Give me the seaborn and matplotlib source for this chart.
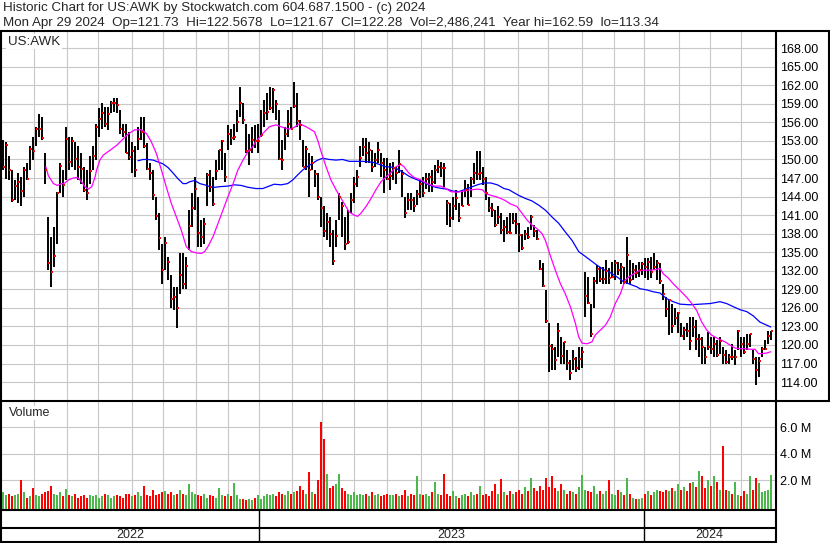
import matplotlib
matplotlib.use("Agg")
import matplotlib.pyplot as plt
from matplotlib.lines import Line2D
import numpy as np
import seaborn as sns

# ---------------- data (one sample ~ every 2 trading days, May 2022 .. Apr 29 2024) ----------------
highs = [153.1,152.9,150.5,148.3,146.7,147.8,147.2,148.8,149.4,152.1,153.7,155.3,157.4,156.9,151.0,140.7,137.5,139.1,144.8,149.4,148.3,155.2,153.7,153.7,152.9,152.1,151.0,148.8,148.3,150.5,152.1,155.8,158.3,159.1,158.5,158.5,159.4,159.9,159.9,158.0,155.8,155.8,154.5,
         152.9,152.1,155.3,156.9,156.9,152.6,149.4,148.3,144.0,141.3,136.4,137.5,134.3,131.3,129.4,129.4,134.8,134.9,134.3,141.8,144.5,147.2,144.0,140.2,140.5,147.8,148.3,147.2,149.9,151.5,153.1,151.0,155.6,155.0,155.8,158.0,161.8,159.1,155.8,154.2,155.3,155.6,
         155.8,158.0,159.6,160.7,161.8,161.5,159.6,158.0,153.1,155.3,158.0,158.5,162.6,160.7,156.4,153.1,152.1,151.0,150.5,148.3,147.8,144.0,142.4,141.3,140.7,138.6,140.2,144.5,143.2,140.7,141.8,144.5,147.2,148.3,152.1,153.4,153.4,152.9,151.5,151.0,152.9,151.0,150.2,
         150.2,149.4,149.6,148.8,151.5,148.3,144.0,144.5,144.5,144.0,145.1,146.7,147.2,147.8,147.8,148.3,149.1,149.9,149.6,149.4,143.4,142.9,144.0,145.1,142.9,145.1,146.7,146.1,147.2,149.4,151.3,151.3,148.8,147.2,144.0,142.9,141.8,142.4,141.3,140.2,140.7,141.3,141.3,
         141.3,139.7,138.0,138.6,139.1,141.0,139.4,138.6,133.7,133.2,128.9,123.5,120.2,119.7,123.5,121.3,120.5,119.2,117.5,119.2,118.1,119.7,119.7,131.8,131.0,126.7,131.0,132.9,132.6,132.6,133.7,132.4,133.5,133.7,133.5,133.2,132.6,137.5,133.7,133.2,132.9,133.5,133.5,
         134.0,134.0,134.3,134.9,133.7,133.2,129.9,127.8,127.2,126.7,125.9,125.4,123.5,122.9,123.5,124.5,124.5,124.0,121.8,121.3,119.7,122.1,121.3,121.3,120.8,121.3,119.7,119.2,118.6,120.2,119.2,122.4,121.3,121.3,121.8,121.8,119.2,118.1,118.1,119.7,120.8,122.2,122.2]
lows = [148.3,146.9,146.7,143.2,143.4,142.9,142.4,144.0,146.7,148.3,149.9,152.1,153.7,153.1,146.1,132.1,129.4,132.6,136.4,144.5,144.0,146.7,148.3,148.8,148.3,146.7,146.1,144.8,143.4,146.1,148.3,149.9,153.7,155.0,155.3,154.8,157.5,157.7,157.5,154.2,153.7,151.0,149.9,
        147.8,147.2,151.5,153.1,151.8,148.3,146.7,143.4,140.2,135.3,129.9,132.1,130.5,125.9,125.6,122.8,128.3,129.1,129.1,135.3,139.1,141.8,135.9,135.9,136.4,142.4,144.8,142.4,146.7,148.3,148.3,146.4,151.5,152.3,153.1,154.5,156.9,155.8,151.0,149.1,151.0,151.8,
        151.0,153.7,155.3,156.4,158.0,157.5,156.4,149.9,148.3,151.5,153.7,155.0,158.3,155.3,153.1,148.8,148.3,144.0,148.3,145.6,143.4,139.1,137.5,136.9,135.9,132.9,135.9,140.2,137.5,135.3,136.4,141.3,142.9,145.6,148.8,150.5,149.4,149.4,148.0,148.8,149.4,147.2,144.5,
        146.7,145.1,146.7,146.1,147.8,144.0,140.5,141.8,141.8,141.5,142.6,143.7,144.0,145.3,144.8,144.8,146.1,147.8,147.2,145.6,139.4,139.1,140.2,141.8,139.9,142.4,144.0,142.7,144.0,146.1,146.7,146.7,145.9,143.4,141.5,140.7,139.1,139.6,138.0,136.7,138.0,137.9,139.6,
        138.0,135.1,135.3,136.9,137.2,138.6,137.5,136.9,132.1,129.4,123.5,115.6,115.9,115.9,118.1,117.0,117.0,115.9,114.3,115.9,115.6,115.9,116.2,124.5,126.7,121.3,125.9,129.9,130.2,129.9,129.9,129.9,130.8,130.5,131.3,129.9,129.9,129.9,129.9,130.5,130.8,131.0,131.3,
        130.8,130.5,130.8,132.1,130.5,129.9,127.2,124.5,121.6,121.9,123.2,121.9,121.3,120.8,121.3,119.2,121.3,119.2,118.1,117.0,117.0,119.2,118.6,118.1,118.1,118.6,117.0,117.0,117.0,117.5,116.7,119.2,118.1,118.6,119.2,119.7,117.0,113.5,114.8,118.1,119.2,120.2,120.8]
closes = [148.8,152.3,148.3,143.4,145.7,146.4,144.9,148.3,146.9,151.7,151.3,154.9,154.9,153.5,148.3,133.3,131.8,134.4,144.6,148.9,145.9,153.3,149.6,153.0,150.1,148.8,148.5,145.1,144.6,148.1,150.5,155.3,156.5,157.5,155.7,157.4,159.1,159.2,158.8,155.0,154.4,151.1,150.4,
          151.4,148.3,153.3,154.5,152.1,148.5,147.8,144.3,140.9,137.3,132.1,136.5,133.4,127.5,127.7,126.0,131.3,129.9,132.8,139.3,142.1,145.3,138.1,137.5,139.5,147.5,145.6,142.8,148.2,151.5,153.0,147.1,154.1,153.5,153.7,156.1,159.2,156.4,151.4,151.6,153.1,153.0,
          153.0,154.0,157.5,157.6,158.4,161.2,158.9,150.1,149.9,154.2,155.8,155.0,158.6,156.3,155.6,148.8,151.7,148.3,149.4,147.6,143.9,142.2,138.4,139.9,138.0,133.6,137.7,144.0,142.4,136.4,136.7,143.5,146.1,147.1,150.2,152.0,151.0,151.5,148.8,149.9,151.5,149.4,148.3,
          146.9,147.3,148.7,147.8,149.3,147.6,141.3,143.5,143.4,142.4,144.4,146.1,144.5,146.9,147.1,146.3,148.3,148.8,148.7,148.6,142.9,140.6,142.4,143.7,140.6,142.5,145.1,142.7,146.9,147.8,147.6,147.8,146.9,144.5,142.1,141.8,139.4,140.7,138.6,139.1,138.3,138.1,140.0,
          139.6,137.8,135.7,138.0,137.5,140.7,138.5,137.2,132.3,129.5,123.9,119.8,119.4,117.6,122.2,118.2,120.4,117.1,115.5,117.7,116.3,117.7,118.9,128.0,126.8,121.8,130.4,132.3,130.6,130.7,132.0,130.8,131.0,133.3,132.2,132.6,130.2,134.5,130.5,132.1,131.6,132.1,133.1,
          132.6,133.5,131.8,132.6,133.2,130.4,128.3,125.8,127.2,123.0,124.4,125.1,121.5,122.5,122.3,120.7,122.9,120.9,120.9,119.7,118.0,119.7,119.3,120.2,118.3,120.7,118.3,117.2,118.1,118.0,118.0,122.3,120.2,118.9,120.2,121.7,117.7,115.9,117.4,119.4,119.4,121.4,122.3]
volume_m = [1.1,0.9,1.0,0.8,0.9,1.0,2.0,1.1,0.7,0.8, 1.4,0.9,0.8,1.0,1.1,1.2,1.55,1.0,0.9,1.1,
            0.8,1.35,0.9,0.8,1.0,0.7,0.8,0.9,0.7,0.9, 0.8,0.9,0.7,0.8,1.0,0.9,0.7,0.8,0.9,0.8,
            0.7,0.95,1.0,0.8,0.9,1.1,0.8,1.55,0.9,0.8, 1.3,0.9,1.0,1.1,1.2,1.0,1.1,0.9,1.0,1.3,
            1.0,0.9,1.7,1.1,1.0,0.9,0.8,1.0,0.7,0.9, 0.8,0.7,1.45,0.9,0.8,1.0,0.8,1.8,0.9,0.6,
            0.6,0.5,0.6,0.5,0.7,0.9,0.6,0.8,1.0,0.9, 1.0,0.8,1.1,1.0,0.9,1.2,1.0,1.1,1.2,1.6,
            1.3,1.0,2.6,1.1,1.0,2.05,6.4,5.1,2.5,1.4, 1.6,1.7,2.5,1.4,1.2,1.0,0.9,1.1,0.9,1.0,
            0.9,1.0,0.8,1.1,0.9,1.0,0.8,0.9,1.0,0.9, 0.9,1.0,0.8,0.9,1.3,0.8,1.0,0.9,2.3,1.0,
            0.9,1.0,0.8,1.1,1.9,1.0,0.9,2.5,1.0,0.8, 1.2,0.8,0.7,0.9,1.0,0.8,1.1,0.9,1.0,1.6,
            0.9,1.0,0.8,1.2,1.7,1.0,2.1,1.1,0.9,1.2, 1.0,1.1,1.3,1.0,1.5,1.2,2.2,1.4,1.2,1.6,
            1.3,2.2,1.5,2.3,1.4,1.2,1.7,1.3,1.0,1.2, 1.1,1.0,1.5,2.4,1.3,1.2,1.1,1.6,1.0,1.2,
            1.0,1.2,2.0,1.0,0.9,1.3,1.1,0.9,2.2,1.0, 0.7,0.6,0.6,0.7,1.0,1.2,0.9,1.1,1.3,1.2,
            1.1,1.3,1.2,1.4,1.2,1.7,1.3,1.5,1.2,1.8, 1.9,1.5,2.7,2.3,1.4,2.0,1.6,2.3,1.9,1.3,
            4.6,1.3,1.2,1.0,1.9,0.9,0.8,1.2,1.0,2.3, 1.3,2.2,1.8,1.1,1.2,1.3,2.4]

# moving averages (sample index, value)
ma_fast_idx = [14.3,15.1,16.8,18.1,19.6,20.7,21.8,23.4,24.8,26.2,27.3,28.4,29.6,30.7,31.2,32.3,33.4,35.7,37.9,39.6,41.2,42.3,
               43.9,46.1,47.8,49.4,51.1,52.8,54.4,56.1,57.8,59.4,61.1,62.8,64.4,66.1,67.2,68.3,70.0,71.7,73.3,75.0,76.7,78.3,80.0,81.7,83.3,
               84.3,86.6,88.8,91.0,93.2,95.4,97.1,98.8,101.0,103.8,104.9,106.0,107.7,109.3,111.0,112.7,114.3,115.4,117.1,118.2,119.3,121.0,122.7,124.3,126.0,127.7,
               129.2,130.9,132.6,133.7,135.3,137.0,139.2,141.4,143.7,145.9,147.6,149.2,151.4,153.7,155.9,158.1,159.8,160.9,162.6,164.2,165.9,167.6,169.2,
               171.3,173.0,174.7,176.3,178.0,179.7,180.8,182.4,184.1,185.8,187.4,189.1,190.8,191.9,193.0,194.7,196.3,197.4,199.1,200.8,202.4,204.1,205.8,207.4,208.6,210.2,211.9,
               214.0,215.7,217.9,219.0,220.1,221.8,223.4,225.7,227.9,229.6,231.2,232.9,234.6,236.2,238.4,240.7,242.3,244.0,245.7,247.3,249.0,250.7,251.8,252.9,254.6,255.9]
ma_fast_val = [148.8,147.4,146.1,145.8,146.1,146.2,146.7,147.0,147.1,146.4,145.6,145.2,145.6,147.2,148.3,149.9,150.7,151.5,152.3,153.1,153.9,154.3,
               154.8,154.8,154.2,152.9,151.0,148.3,145.6,142.9,140.7,138.6,135.9,135.1,134.9,134.8,135.1,135.9,137.5,139.7,141.8,144.0,146.1,148.3,149.9,151.3,152.1,
               152.9,154.2,155.3,155.6,155.2,154.9,155.2,155.8,155.3,154.5,153.1,151.3,148.8,146.7,145.1,143.7,142.4,141.5,141.0,140.8,141.3,142.4,143.7,145.1,146.4,147.2,
               147.8,148.8,149.2,148.8,147.8,147.1,146.7,146.1,145.7,145.7,145.3,144.8,144.7,144.9,145.1,145.2,145.1,144.5,144.2,144.0,143.7,143.3,142.8,
               142.4,141.3,140.2,139.4,138.8,138.0,136.9,134.5,132.1,129.9,128.3,126.2,123.5,121.3,120.3,120.2,120.5,121.6,122.4,123.2,124.5,126.7,128.3,130.5,131.0,131.5,132.0,
               132.1,132.1,132.2,132.4,131.5,130.8,129.9,128.8,127.7,126.7,125.6,123.7,122.4,121.6,121.0,120.5,120.0,119.5,119.4,119.4,119.3,119.3,118.6,118.6,118.7,118.9]
ma_slow_idx = [45.0,46.7,48.3,50.0,51.7,53.3,55.0,56.7,58.3,60.0,61.1,62.2,63.9,65.6,67.2,68.9,70.6,72.2,75.0,77.2,79.4,81.7,
               84.3,86.6,88.2,90.4,92.7,94.9,96.6,98.2,99.9,101.6,103.2,104.9,106.6,108.8,111.0,113.2,115.4,117.7,119.9,122.1,123.8,125.4,127.7,
               129.2,130.9,133.1,135.3,137.6,139.8,142.0,144.2,146.4,148.1,149.8,152.0,154.2,155.9,158.1,160.3,162.6,164.8,167.0,168.7,
               169.7,171.9,174.1,176.3,178.6,180.8,183.0,185.2,187.4,189.7,191.9,193.6,195.8,198.0,200.2,202.4,204.7,206.9,209.1,211.3,
               212.3,214.6,216.8,219.0,221.2,223.4,225.7,229.0,232.3,235.7,239.0,241.2,243.4,245.7,247.9,250.1,252.3,254.6,255.9]
ma_slow_val = [149.8,150.0,150.0,149.9,149.6,149.3,148.7,147.8,146.9,146.1,146.1,146.4,146.6,146.1,145.9,145.6,145.5,145.6,145.7,145.9,145.8,145.5,
               145.3,145.3,145.6,146.0,145.9,146.1,146.7,147.5,148.3,148.9,149.4,149.9,150.2,150.0,149.9,150.0,149.7,149.7,149.7,149.6,149.5,149.2,148.8,
               148.8,148.6,148.0,147.3,146.8,146.4,145.9,145.5,145.3,145.2,144.9,144.8,145.2,145.5,145.9,146.2,146.2,145.9,145.3,145.1,
               144.8,144.2,143.7,143.3,142.6,141.8,140.7,139.7,138.3,136.9,135.1,134.5,133.7,132.9,132.2,131.7,131.0,130.2,129.8,129.4,
               129.1,128.9,128.6,128.4,127.5,127.0,126.6,126.5,126.6,126.7,127.0,126.7,126.2,125.7,125.4,124.7,123.7,123.2,122.9]

month_start_idx = [10.43,21.23,31.57,42.9,53.23,64.23,74.9,85.43,96.43,106.43,117.1,127.9,139.23,149.57,
                   160.43,171.57,181.57,192.9,203.57,213.67,225.23,235.57,245.9]
year_labels = ["2022", "2023", "2024"]
year_start_idx = [85.43, 213.67]
price_ticks = [114, 117, 120, 123, 126, 129, 132, 135, 138, 141, 144, 147, 150, 153, 156, 159, 162, 165, 168]
volume_ticks = [2, 4, 6]

header1 = "Historic Chart for US:AWK by Stockwatch.com 604.687.1500 - (c) 2024"
header2_fields = ["Mon Apr 29 2024", "Op=121.73", "Hi=122.5678", "Lo=121.67", "Cl=122.28",
                  "Vol=2,486,241", "Year hi=162.59", "lo=113.34"]
symbol = "US:AWK"

# ---------------- drawing ----------------
sns.set_theme(style="white")
plt.rcParams['font.family'] = ['Liberation Sans', 'DejaVu Sans']

W, H = 830, 543
fig = plt.figure(figsize=(W / 100, H / 100), dpi=100)
fig.patch.set_facecolor("white")

def rect(x0, y0, x1, y1):
    return [x0 / W, 1 - y1 / H, (x1 - x0) / W, (y1 - y0) / H]

GRID = "#c8c8c8"
FS = 9
HFS = 9.6
idx = np.arange(len(closes))
xlim = (-0.667, 257.33)

ax = fig.add_axes(rect(1, 31, 775, 400))
axv = fig.add_axes(rect(1, 401, 775, 510))
axd = fig.add_axes(rect(1, 510, 775, 543))

for a in (ax, axv, axd):
    a.set_xlim(*xlim)
    for s in a.spines.values():
        s.set_visible(False)
    a.set_facecolor("white")

# price panel
ax.set_ylim(111.1, 170.78)
ax.set_xticks(month_start_idx)
ax.set_yticks(price_ticks)
ax.set_yticklabels([f"{v:.2f}" for v in price_ticks], fontsize=FS, color="black")
ax.tick_params(axis="y", left=False, right=False, labelleft=False, labelright=True, length=0, pad=3.6)
ax.tick_params(axis="x", bottom=False, labelbottom=False, length=0)
ax.grid(True, color=GRID, lw=0.8)
ax.set_axisbelow(True)

ax.vlines(idx, lows, highs, colors="black", lw=1.4, zorder=3)
sns.lineplot(x=ma_slow_idx, y=ma_slow_val, ax=ax, color="#0000ff", lw=0.9, estimator=None, sort=False, zorder=4)
sns.lineplot(x=ma_fast_idx, y=ma_fast_val, ax=ax, color="#ff00ff", lw=0.9, estimator=None, sort=False, zorder=4)
ax.plot(idx + 0.2, closes, "s", ms=1.8, mew=0, color="red", zorder=5)
ax.set_xlim(*xlim)
ax.set_ylim(111.1, 170.78)
ax.text(7 / 774, 1 - 10.7 / 369, symbol, transform=ax.transAxes, fontsize=HFS, va="center", ha="left",
        bbox=dict(facecolor="white", edgecolor="none", pad=1.2), zorder=6)

# volume panel
vlo = -0.24
axv.set_ylim(vlo, 8.0)
axv.set_xticks(month_start_idx)
axv.set_yticks(volume_ticks)
axv.set_yticklabels([f"{v:.1f} M" for v in volume_ticks], fontsize=FS, color="black")
axv.tick_params(axis="y", left=False, right=False, labelleft=False, labelright=True, length=0, pad=3.6)
axv.tick_params(axis="x", bottom=False, labelbottom=False, length=0)
axv.grid(True, color=GRID, lw=0.8)
axv.set_axisbelow(True)
colors = ["#4cb84c"] + ["#4cb84c" if closes[i] >= closes[i - 1] else "#ff0000" for i in range(1, len(closes))]
axv.bar(idx, np.array(volume_m) - vlo, bottom=vlo, width=0.75, color=colors, linewidth=0, zorder=3)
axv.text(8 / 774, 1 - 12 / 109, "Volume", transform=axv.transAxes, fontsize=FS, va="center", ha="left",
         bbox=dict(facecolor="white", edgecolor="none", pad=1.0), zorder=6)

# date band
axd.set_ylim(0, 33)
axd.set_xticks([]); axd.set_yticks([])
axd.grid(False)
bounds = [xlim[0]] + year_start_idx + [xlim[1]]
for b in year_start_idx:
    axd.axvline(b, color="black", lw=1.0)
for lab, a0, a1 in zip(year_labels, bounds[:-1], bounds[1:]):
    axd.text((a0 + a1) / 2, 8, lab, fontsize=FS, ha="center", va="center")

# frame lines (pixel coordinates)
def hline(y, x0, x1, lw=1.5):
    fig.add_artist(Line2D([x0 / W, x1 / W], [1 - y / H, 1 - y / H], color="black", lw=lw, transform=fig.transFigure))

def vline(x, y0, y1, lw=1.5):
    fig.add_artist(Line2D([x / W, x / W], [1 - y0 / H, 1 - y1 / H], color="black", lw=lw, transform=fig.transFigure))

hline(31, 0, 830)
hline(400.5, 0, 830)
hline(510, 0, 776)
hline(527.5, 0, 776)
hline(542, 0, 776)
vline(0.8, 31, 543)
vline(775.5, 31, 543)
vline(829, 31, 401)

fig.text(3 / W, 1 - 8.5 / H, header1, fontsize=HFS, va="center", ha="left")
fig.text(3 / W, 1 - 23 / H, "  ".join(header2_fields), fontsize=HFS, va="center", ha="left")

fig.savefig("out.png", dpi=100, facecolor="white")
